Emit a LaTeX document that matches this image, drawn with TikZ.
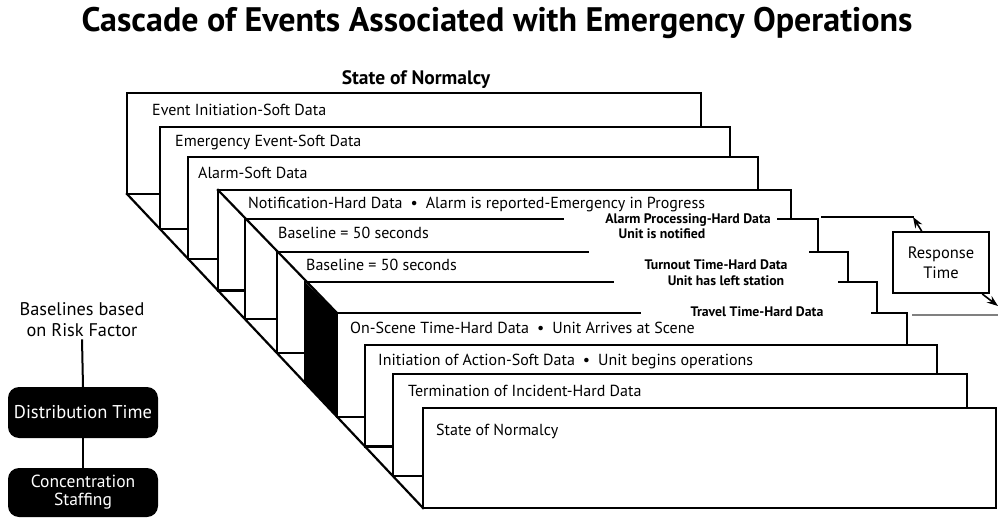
\documentclass[tikz,border=0pt]{standalone}
\usepackage{fontspec}
\setmainfont{PT Sans}
\usetikzlibrary{arrows.meta}
\begin{document}
\begin{tikzpicture}[x=1pt,y=-1pt,
  edge/.style={line width=2.2pt, line join=miter, line cap=rect},
  txt/.style={anchor=base west, inner sep=0pt, font=\fontsize{16}{19}\selectfont},
  sidelbl/.style={anchor=base, inner sep=0pt, font=\bfseries\fontsize{13.8}{16}\selectfont},
  darkbox/.style={fill=black, rounded corners=11pt, text=white, inner sep=0pt, minimum width=150pt, align=center, font=\fontsize{18.5}{16}\selectfont},
  plainlbl/.style={anchor=base, inner sep=0pt, font=\fontsize{18.3}{20}\selectfont},
  rtbox/.style={draw, line width=2pt, minimum width=96pt, minimum height=61pt, inner sep=0pt, align=center, font=\fontsize{16.5}{20}\selectfont},
  conn/.style={line width=2pt},
  arr/.style={line width=1.6pt, -{Stealth[length=11pt,width=8pt]}},
]
\useasboundingbox (0,0) rectangle (998,518);

% title
\node[anchor=base, inner sep=0pt, font=\bfseries\fontsize{34}{38}\selectfont] (title) at (497,32) {Cascade of Events Associated with Emergency Operations};
\node[anchor=base, inner sep=0pt, font=\bfseries\fontsize{19.5}{22}\selectfont] (top) at (416,85) {State of Normalcy};

% long diagonals
\draw[edge] (127,194) -- (423,508);
\draw[edge] (218,190) -- (337,313);

% card 1
\draw[edge] (127,194) -- (127,93) -- (701,93) -- (701,127);
\draw[edge] (127,194) -- (160,194);
% card 2
\draw[edge] (160,229) -- (160,127) -- (730,127) -- (730,157);
\draw[edge] (160,229) -- (188,229);
% card 3
\draw[edge] (188,258.7) -- (188,157) -- (758,157) -- (758,190);
\draw[edge] (188,258.7) -- (218,258.7);
% card 4
\draw[edge] (218,290.5) -- (218,190) -- (791,190) -- (791,219);
\draw[edge] (218,290.5) -- (245,290.5);
% card 5
\draw[edge] (245,319.2) -- (245,219) -- (563,219);
\draw[edge] (778,219) -- (818,219) -- (818,252);
\draw[edge] (245,319.2) -- (277,319.2);
% card 6
\draw[edge] (277,353.1) -- (277,252) -- (588,252);
\draw[edge] (810,252) -- (848,252) -- (848,282);
\draw[edge] (277,353.1) -- (305,353.1);
% card 7 (black side)
\fill[black] (305,282) -- (337,313) -- (337,416.8) -- (305,382.8) -- cycle;
\draw[edge] (305,382.8) -- (305,282) -- (613,282);
\draw[edge] (839,282) -- (877,282) -- (877,313);
% card 8
\draw[edge] (337,416.8) -- (337,313) -- (640,313);
\draw[edge] (872,313) -- (907,313) -- (907,345);
\draw[edge] (337,416.8) -- (365,416.8);
% card 9
\draw[edge] (365,446.5) -- (365,345) -- (937,345) -- (937,374);
\draw[edge] (365,446.5) -- (393,446.5);
% card 10
\draw[edge] (393,476.2) -- (393,374) -- (967,374) -- (967,408);
\draw[edge] (393,476.2) -- (423,476.2);
% card 11
\draw[edge] (423,408) rectangle (996,508);

% card texts
\node[txt] (t1) at (152,116) {Event Initiation-Soft Data};
\node[txt] (t2) at (175,147) {Emergency Event-Soft Data};
\node[txt] (t3) at (198,179) {Alarm-Soft Data};
\node[txt] (t4) at (248,209) {Notification-Hard Data\enspace•\enspace Alarm is reported-Emergency in Progress};
\node[txt] (t5) at (278,239) {Baseline = 50 seconds};
\node[txt] (t6) at (306,271) {Baseline = 50 seconds};
\node[txt] (t8) at (350,334) {On-Scene Time-Hard Data\enspace•\enspace Unit Arrives at Scene};
\node[txt] (t9) at (378,365) {Initiation of Action-Soft Data\enspace•\enspace Unit begins operations};
\node[txt] (t10) at (408,396) {Termination of Incident-Hard Data};
\node[txt] (t11) at (436,435) {State of Normalcy};

% right-side labels
\node[sidelbl] (s1) at (688,224) {Alarm Processing-Hard Data};
\node[sidelbl] (s2) at (662,239) {Unit is notified};
\node[sidelbl] (s3) at (716,270) {Turnout Time-Hard Data};
\node[sidelbl] (s4) at (726,286) {Unit has left station};
\node[sidelbl] (s5) at (757,317) {Travel Time-Hard Data};

% response time
\node[rtbox] (rt) at (941,262.5) {Response\\Time};
\coordinate (brA) at (822,217);
\coordinate (tipA) at (913,217);
\coordinate (brB) at (913,315);
\coordinate (brBe) at (998,315);
\coordinate (tipB) at (998,306);
\draw[edge] (brA) -- (tipA);
\draw[arr] (rt) -- (tipA);
\draw[edge, gray] (brB) -- (brBe);
\draw[arr] (rt) -- (tipB);

% left column
\node[plainlbl] (bl1) at (82,316) {Baselines based};
\node[plainlbl] (bl2) at (82,337) {on Risk Factor};
\node[darkbox, minimum height=51pt] (dist) at (83,412.5) {Distribution Time};
\node[darkbox, minimum height=49pt, font=\fontsize{17.5}{18}\selectfont] (conc) at (83,492.5) {Concentration\\Staffing};
\draw[conn] (bl2.south) ++(0,2) coordinate (blb) -- (dist.north);
\draw[conn] (dist.south) -- (conc.north);
\end{tikzpicture}
\end{document}
